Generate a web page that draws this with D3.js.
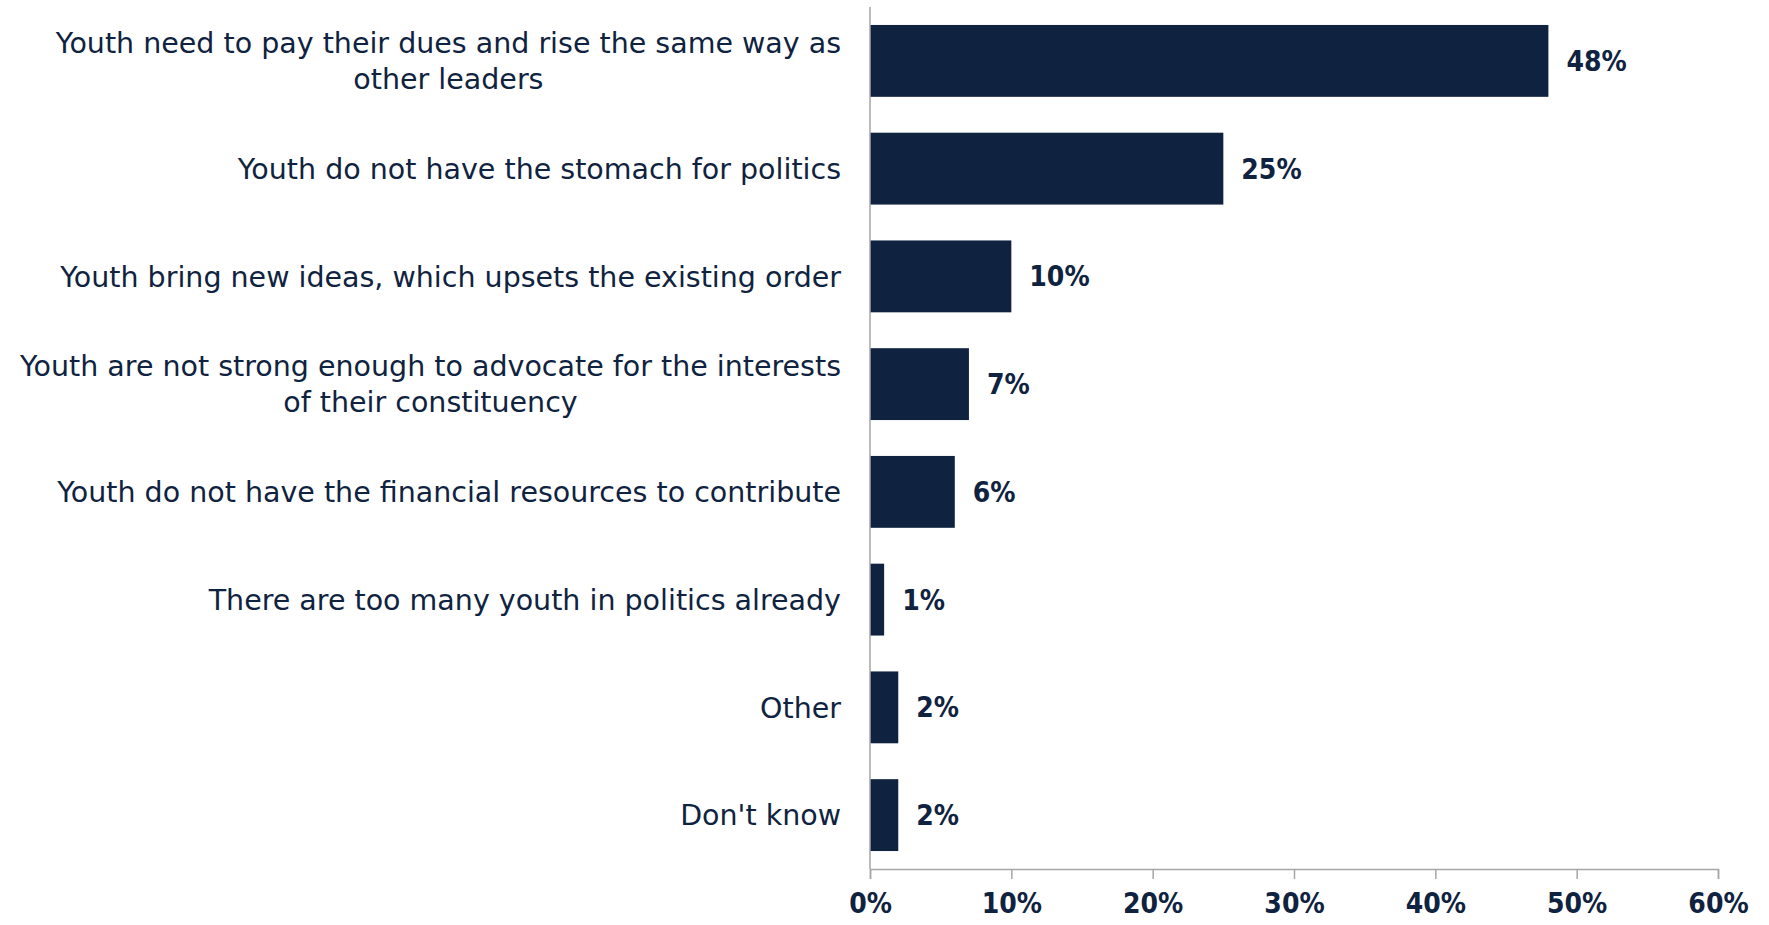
<!DOCTYPE html>
<html>
<head>
<meta charset="utf-8">
<script src="https://cdn.jsdelivr.net/npm/d3@7/dist/d3.min.js"></script>
<style>
  html, body { margin: 0; padding: 0; background: #fff; }
</style>
</head>
<body>
<div id="chart"></div>
<script>
// data
const categories = [
  ["Youth need to pay their dues and rise the same way as", "other leaders"],
  ["Youth do not have the stomach for politics"],
  ["Youth bring new ideas, which upsets the existing order"],
  ["Youth are not strong enough to advocate for the interests", "of their constituency"],
  ["Youth do not have the financial resources to contribute"],
  ["There are too many youth in politics already"],
  ["Other"],
  ["Don't know"]
];
const values = [48, 25, 10, 7, 6, 1, 2, 2];
const xTicks = [0, 10, 20, 30, 40, 50, 60];

const W = 1769, H = 925;
const navy = "#0f2340";
const condensed = "'DejaVu Sans Condensed', 'DejaVu Sans', sans-serif";
const m = {top: 7, right: 51, bottom: 56, left: 870};

const svg = d3.select("#chart").append("svg")
    .attr("width", W).attr("height", H)
    .attr("viewBox", [0, 0, W, H]);

const x = d3.scaleLinear().domain([0, 60]).range([m.left, W - m.right]);
const y = d3.scaleBand().domain(d3.range(values.length))
    .range([m.top, H - m.bottom])
    .paddingInner(0.333).paddingOuter(0.1667);

// bars
svg.append("g").selectAll("rect")
  .data(values)
  .join("rect")
    .attr("x", x(0))
    .attr("y", (d, i) => y(i))
    .attr("width", d => x(d) - x(0))
    .attr("height", y.bandwidth())
    .attr("fill", navy);

// value labels
svg.append("g").selectAll("text")
  .data(values)
  .join("text")
    .attr("x", d => x(d) + 18)
    .attr("y", (d, i) => y(i) + y.bandwidth() / 2)
    .attr("dy", "0.36em")
    .attr("font-family", condensed)
    .attr("font-size", 28)
    .attr("font-weight", "bold")
    .attr("fill", navy)
    .text(d => d + "%");

// x axis
const xAxis = svg.append("g")
    .attr("transform", `translate(0,${H - m.bottom})`)
    .call(d3.axisBottom(x).tickValues(xTicks).tickSize(10).tickPadding(14).tickFormat(d => d + "%"));
xAxis.select(".domain").attr("stroke", "#a6a6a6").attr("stroke-width", 1.5);
xAxis.selectAll(".tick line").attr("stroke", "#a6a6a6").attr("stroke-width", 1.5);
xAxis.attr("font-family", condensed).attr("font-size", 28);
xAxis.selectAll(".tick text")
    .attr("font-weight", "bold").attr("fill", navy);

// y axis line
svg.append("line")
    .attr("x1", x(0)).attr("x2", x(0))
    .attr("y1", m.top).attr("y2", H - m.bottom)
    .attr("stroke", "#a6a6a6").attr("stroke-width", 1.5);

// category labels: block right-aligned, lines centered in the block
const labelRight = x(0) - 29;
const lineH = 36;
const catFont = 28.5;
const catG = svg.append("g");
categories.forEach((lines, i) => {
  const g = catG.append("g");
  const cy = y(i) + y.bandwidth() / 2;
  const ts = lines.map((t, j) => g.append("text")
      .attr("font-size", catFont)
      .attr("font-family", "'DejaVu Sans', sans-serif")
      .attr("fill", navy)
      .attr("text-anchor", "middle")
      .attr("y", cy + (j - (lines.length - 1) / 2) * lineH)
      .attr("dy", "0.36em")
      .text(t));
  const widest = d3.max(ts, t => t.node().getComputedTextLength());
  ts.forEach(t => t.attr("x", labelRight - widest / 2));
});
</script>
</body>
</html>
